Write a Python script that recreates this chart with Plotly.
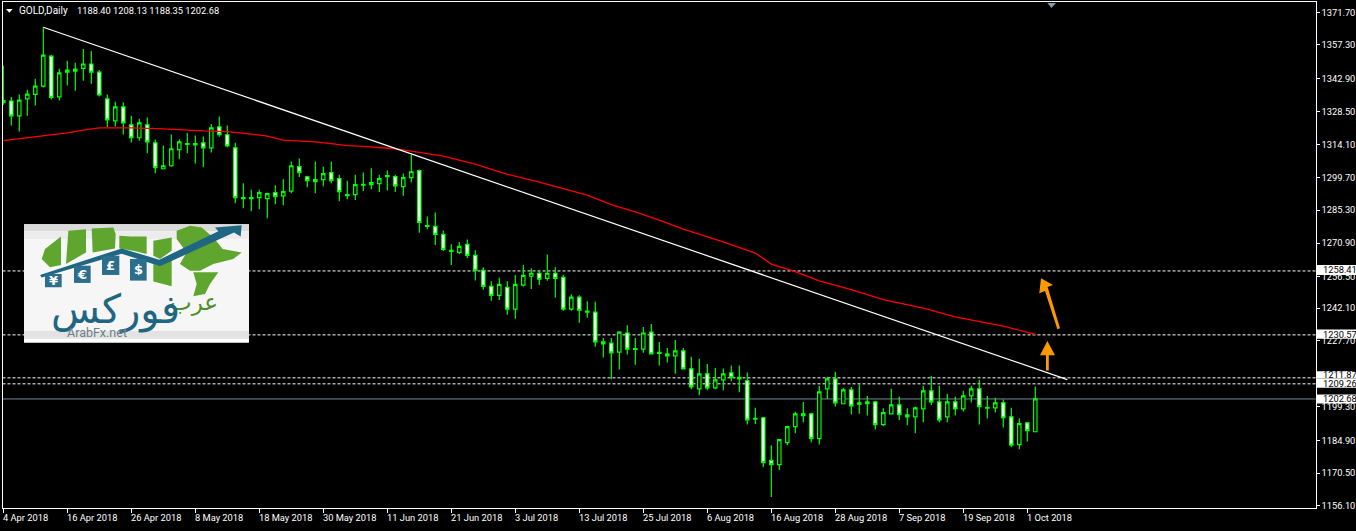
import plotly.graph_objects as go

# ---- data -----------------------------------------------------------------
opens = [1332.6,1332.4,1325.9,1333.3,1335.3,1338.9,1351.9,1334.2,1345.9,1345.4,
 1346.6,1348.5,1345.0,1333.3,1323.7,1329.8,1322.0,1316.4,1322.0,1314.2,
 1302.9,1304.2,1311.2,1313.8,1313.8,1314.2,1312.0,1321.1,1317.7,1312.0,
 1290.3,1290.3,1290.3,1289.9,1292.5,1291.1,1293.2,1303.8,1299.4,1297.3,
 1298.2,1301.2,1298.6,1291.6,1291.6,1296.1,1296.0,1296.4,1299.9,1299.5,
 1295.1,1299.0,1302.1,1278.2,1277.8,1274.3,1267.4,1266.5,1270.0,1265.2,
 1258.7,1251.7,1247.8,1251.3,1241.8,1252.2,1256.1,1257.4,1255.2,1257.4,
 1255.6,1241.8,1247.0,1240.9,1240.5,1226.6,1227.0,1223.1,1231.4,1224.6,
 1224.4,1231.8,1223.0,1222.3,1221.4,1223.6,1215.8,1207.1,1213.6,1207.5,
 1211.0,1214.0,1212.1,1210.6,1194.2,1194.5,1175.9,1174.1,1183.7,1190.6,
 1196.2,1196.2,1185.4,1207.1,1211.4,1200.6,1206.6,1201.0,1200.6,1201.4,
 1191.5,1196.2,1200.1,1194.9,1194.9,1198.4,1206.2,1201.4,1194.9,1201.4,
 1198.4,1204.0,1207.1,1199.0,1198.8,1201.0,1194.9,1182.8,1192.3,1188.40]
highs = [1347.7,1334.1,1335.2,1337.3,1342.1,1364.5,1352.5,1346.4,1349.9,1349.0,
 1355.0,1354.2,1345.9,1335.2,1332.1,1331.7,1326.0,1324.7,1325.2,1315.6,
 1313.0,1317.8,1315.6,1318.5,1317.4,1316.9,1322.4,1325.6,1321.7,1314.2,
 1296.6,1293.8,1293.8,1292.5,1295.7,1298.3,1306.0,1307.4,1299.9,1306.0,
 1303.8,1306.0,1300.3,1297.7,1300.3,1301.3,1303.1,1300.3,1302.1,1300.3,
 1300.8,1309.0,1302.6,1282.1,1283.8,1276.0,1270.0,1271.0,1272.1,1267.4,
 1260.0,1253.9,1255.4,1253.9,1256.5,1261.0,1259.6,1258.7,1265.6,1260.0,
 1256.7,1248.3,1247.8,1245.2,1245.0,1229.2,1229.2,1232.2,1234.8,1229.2,
 1234.0,1235.3,1227.5,1224.9,1228.3,1224.9,1221.1,1220.2,1217.9,1216.2,
 1215.9,1217.2,1217.2,1214.2,1198.8,1194.9,1182.5,1185.0,1191.0,1197.1,
 1201.4,1196.7,1208.4,1212.3,1214.5,1207.5,1207.9,1209.0,1204.0,1201.9,
 1198.6,1207.1,1203.6,1198.6,1199.3,1208.4,1212.7,1208.4,1204.9,1203.6,
 1206.2,1208.4,1211.0,1204.0,1203.2,1202.4,1198.8,1194.2,1192.3,1208.13]
lows = [1330.8,1321.7,1319.1,1326.0,1330.4,1338.3,1333.1,1332.6,1339.1,1336.9,
 1341.2,1339.9,1334.3,1321.1,1321.3,1317.8,1314.3,1315.1,1309.6,1300.9,
 1302.6,1303.8,1307.0,1309.6,1305.2,1303.6,1310.0,1316.8,1312.3,1287.9,
 1285.7,1284.4,1285.3,1281.4,1287.4,1287.0,1292.2,1299.3,1294.8,1292.2,
 1295.3,1296.6,1288.8,1289.6,1289.3,1293.2,1294.0,1292.8,1293.4,1292.8,
 1291.1,1296.9,1275.0,1276.6,1269.7,1267.1,1261.0,1265.8,1264.0,1254.2,
 1250.2,1245.4,1245.8,1239.3,1237.6,1251.6,1250.6,1252.3,1254.1,1246.7,
 1241.1,1241.1,1235.8,1238.0,1225.4,1220.7,1211.3,1215.5,1222.0,1217.6,
 1222.8,1222.0,1217.2,1218.5,1213.7,1215.6,1206.9,1204.3,1206.5,1206.9,
 1206.5,1210.4,1205.6,1191.6,1191.8,1173.1,1160.0,1171.8,1182.5,1187.7,
 1192.5,1183.8,1182.9,1202.7,1199.4,1200.4,1195.9,1196.2,1195.5,1189.4,
 1190.9,1195.9,1193.5,1191.2,1187.7,1192.5,1200.0,1192.5,1192.5,1195.5,
 1197.2,1201.1,1191.6,1194.2,1196.8,1190.3,1181.6,1180.8,1184.2,1188.35]
closes = [1331.7,1325.9,1332.8,1335.4,1338.9,1352.4,1334.0,1344.6,1345.0,1346.3,
 1348.5,1345.0,1335.0,1324.2,1329.8,1322.9,1316.4,1322.9,1314.6,1303.4,
 1304.2,1311.6,1314.6,1313.5,1313.3,1312.0,1320.7,1317.7,1312.9,1290.3,
 1289.9,1289.9,1292.5,1292.1,1290.8,1292.9,1304.2,1301.2,1297.7,1298.2,
 1300.8,1297.7,1292.9,1291.2,1296.0,1295.8,1296.9,1298.6,1299.5,1295.4,
 1299.0,1301.6,1279.5,1277.8,1274.3,1267.8,1266.9,1269.1,1265.2,1258.7,
 1251.7,1247.8,1252.6,1241.8,1252.6,1256.5,1257.4,1254.8,1257.4,1255.2,
 1241.8,1247.0,1241.3,1240.5,1227.5,1227.5,1222.7,1231.8,1224.4,1224.3,
 1231.4,1222.3,1222.5,1221.4,1223.6,1215.8,1207.9,1213.6,1207.5,1211.0,
 1213.6,1212.1,1211.4,1193.6,1193.9,1175.0,1174.1,1185.0,1190.6,1196.2,
 1195.4,1185.4,1205.8,1211.4,1201.0,1206.6,1199.7,1200.4,1201.4,1191.5,
 1196.7,1200.1,1195.8,1195.8,1198.8,1206.2,1201.4,1193.6,1201.4,1198.4,
 1204.0,1207.1,1199.3,1198.7,1201.0,1194.5,1182.6,1191.9,1188.9,1202.68]
bars = list(range(len(closes)))

ma_bars = [0,2,3,6,8,10,12,16,20,25,28,31,33,35,39,41,43,45,49,51,55,59,63,67,70,73,76,79,82,
           85,90,94,96,99,102,106,110,115,119,125,129]
ma_values = [1315.1,1315.9,1316.2,1317.7,1318.5,1319.7,1320.7,1320.7,1320.3,1319.4,1319.1,1318.0,
             1317.1,1315.4,1314.6,1313.8,1313.0,1312.6,1311.6,1310.6,1308.4,1304.9,1300.5,1297.1,
             1294.2,1291.4,1287.3,1284.1,1280.5,1276.6,1271.1,1266.2,1261.4,1258.1,1254.1,1250.3,
             1245.9,1242.2,1238.4,1234.4,1230.8]
trend_bars = [5, 133]
trend_values = [1364.5, 1211.1]

level_values = [1258.41, 1230.57, 1211.87, 1209.26]
last_price = 1202.68

price_ticks = [1371.03,1356.84,1342.23,1327.79,1313.47,1299.16,1284.85,1270.54,1255.79,1242.22,
               1228.04,1213.29,1199.19,1184.67,1170.36,1156.26]
price_labels = ["1371.70","1357.30","1342.90","1328.50","1314.10","1299.70","1285.30","1270.90",
                "1256.50","1242.10","1227.70","1213.30","1199.30","1184.90","1170.50","1156.10"]
date_bars = list(range(0, 129, 8))
date_labels = ["4 Apr 2018","16 Apr 2018","26 Apr 2018","8 May 2018","18 May 2018","30 May 2018",
               "11 Jun 2018","21 Jun 2018","3 Jul 2018","13 Jul 2018","25 Jul 2018","6 Aug 2018",
               "16 Aug 2018","28 Aug 2018","7 Sep 2018","19 Sep 2018","1 Oct 2018"]

# ---- layout geometry (page pixels) ------------------------------------------
W, H = 1356, 531
L, R, T, B = 2.5, 1315.7, 2.5, 510.3
FONT = "Roboto"
FS = 9.3

def px(x):
    return x / W
def py(y):
    return 1 - y / H
def poly(points):
    return "M" + " L".join(f"{px(a):.5f},{py(b):.5f}" for a, b in points) + " Z"
def lz(points):
    return [(a / 3, 210 + b / 3) for a, b in points]

shapes, ann = [], []

def fill(points, color):
    shapes.append(dict(type="path", path=poly(points), xref="paper", yref="paper",
                       fillcolor=color, line=dict(width=0), layer="above"))
def rect(x0, y0, x1, y1, color):
    fill([(x0, y0), (x1, y0), (x1, y1), (x0, y1)], color)
def text(x, y, s, color="white", size=FS, anchor="left", family=FONT, **kw):
    ann.append(dict(x=px(x), y=py(y), xref="paper", yref="paper", text=s, showarrow=False,
                    xanchor=anchor, yanchor="middle", font=dict(family=family, size=size, color=color),
                    borderpad=0, **kw))

# horizontal price levels
for v in level_values:
    shapes.append(dict(type="line", xref="paper", yref="y", x0=px(L), x1=px(R), y0=v, y1=v, layer="below",
                       line=dict(color="white", width=1, dash="3px,2px")))
shapes.append(dict(type="line", xref="paper", yref="y", x0=px(L), x1=px(R), y0=last_price, y1=last_price,
                   layer="below", line=dict(color="#778899", width=1)))

# orange arrows
fill([(1057.4, 330.5), (1060, 329.6), (1047.6, 288), (1053, 286), (1041, 279.3), (1039.3, 294.3), (1045, 292)], "#FF9900")
fill([(1046, 372), (1048.8, 372), (1048.8, 356.7), (1055, 356.7), (1047.4, 342.3), (1040, 356.7), (1046, 356.7)], "#FF9900")

# small markers
fill([(6, 9), (12.7, 9), (9.3, 12.7)], "white")
fill([(1047.3, 3), (1056, 3), (1051.5, 8)], "#8499AC")

# logo
rect(24, 225, 249, 344, "white")
rect(24, 225, 249, 232, "#D9DAD9")
rect(24, 232, 249, 240, "#ECECEC")
rect(24, 240, 249, 332, "#F6F6F6")
rect(24, 332, 249, 340, "#E3E3E3")
GREEN = "#5FA62F"
for g in [
    [(125,150),(135,120),(160,100),(183,82),(183,168),(150,175)],
    [(198,165),(205,65),(258,60),(258,130)],
    [(275,58),(340,55),(347,75),(345,118),(278,130)],
    [(358,80),(392,82),(440,82),(440,135),(400,125),(358,118)],
    [(460,95),(515,85),(515,125),(480,150),(460,140)],
    [(460,165),(480,170),(515,150),(515,232),(460,218)],
    [(530,65),(570,50),(605,55),(640,85),(668,120),(725,130),(700,150),(640,165),(600,185),(570,185),(540,165),(560,130),(530,90)],
    [(580,190),(620,190),(655,190),(630,225),(615,255),(580,262),(590,225)],
]:
    fill(lz(g), GREEN)
TEAL = "#1F6683"
fill(lz([(120,198),(365,118),(478,152),(655,66),(645,55),(725,48),(722,82),(702,70),(480,172),(365,134),(125,206)]), TEAL)
for (x0, y0, x1, y1, sym) in [(135,195,185,235,"¥"),(222,170,272,222,"€"),(306,140,358,198,"£"),(390,150,440,215,"$")]:
    fill(lz([(x0,y0),(x1,y0),(x1,y1),(x0,y1)]), "#2C6E8C")
    text((x0+x1)/6, 210+(y0+y1)/6, f"<b>{sym}</b>", size=13, anchor="center", family="DejaVu Sans")
text(194, 304, "عرب", color="#4D8F2A", size=23, anchor="center", family="DejaVu Sans")
text(115, 311, "فوركس", color=TEAL, size=40, anchor="center", family="DejaVu Sans")
text(97, 333.5, "ArabFx.net", color="#6B8088", size=12.5, anchor="center", family="Roboto")

# header
text(18, 10.7, "GOLD,Daily", size=10)
text(75.5, 10.7, "1188.40 1208.13 1188.35 1202.68", size=FS)

# date labels (left aligned to their ticks)
for b, s in zip(date_bars, date_labels):
    ann.append(dict(x=b, y=py(519.5), xref="x", yref="paper", text=s, showarrow=False, xanchor="left",
                    xshift=-1.5, yanchor="middle", font=dict(family=FONT, size=FS, color="white"), borderpad=0))

# white price boxes of the lines, text kept clear of the neighbouring box
for v, top, bottom, text_y in [(1258.41, 266, 276, 271),
                               (1230.57, 330.7, 340, 335.4),
                               (1211.87, 372.7, 380, 376.4),
                               (1209.26, 380, 389.3, 384.6),
                               (1202.68, 396, 405, 400.5)]:
    rect(1316.3, top, 1356, bottom, "white")
    text(1321.5, text_y, f"{v:.2f}", color="black")

fig = go.Figure()
fig.add_trace(go.Candlestick(
    x=bars, open=opens, high=highs, low=lows, close=closes,
    increasing=dict(line=dict(color="#00FF00", width=1.2), fillcolor="black"),
    decreasing=dict(line=dict(color="#00FF00", width=1.2), fillcolor="white"),
    whiskerwidth=0, hoverinfo="skip", showlegend=False))
fig.add_trace(go.Scatter(x=ma_bars, y=ma_values, mode="lines", line=dict(color="#FF0000", width=1.3),
                         hoverinfo="skip", showlegend=False))
fig.add_trace(go.Scatter(x=trend_bars, y=trend_values, mode="lines", line=dict(color="white", width=1.2),
                         hoverinfo="skip", showlegend=False))

fig.update_layout(
    width=W, height=H, autosize=False, margin=dict(l=0, r=0, t=0, b=0, pad=0),
    paper_bgcolor="black", plot_bgcolor="black", boxgap=0.4, showlegend=False,
    font=dict(family=FONT, size=FS, color="white"), shapes=shapes, annotations=ann,
    xaxis=dict(domain=[L / W, R / W], range=[-0.1, 164.05], rangeslider=dict(visible=False),
               tickmode="array", tickvals=date_bars, ticktext=[""] * len(date_bars), ticks="outside",
               ticklen=4, tickcolor="white", tickwidth=1, showgrid=False, zeroline=False,
               showline=True, linecolor="white", linewidth=1, mirror=True),
    yaxis=dict(domain=[(H - B) / H, (H - T) / H], range=[1155.04, 1375.28], side="right",
               tickmode="array", tickvals=price_ticks, ticktext=price_labels, ticks="outside",
               ticklen=3, tickcolor="white", tickwidth=1, showgrid=False, zeroline=False,
               showline=True, linecolor="white", linewidth=1, mirror=True,
               tickfont=dict(family=FONT, size=FS, color="white")),
)
fig.write_html("out.html", config={"displayModeBar": False},
               post_script="document.body.style.margin='0';document.body.style.background='black';document.body.style.overflow='hidden';")
